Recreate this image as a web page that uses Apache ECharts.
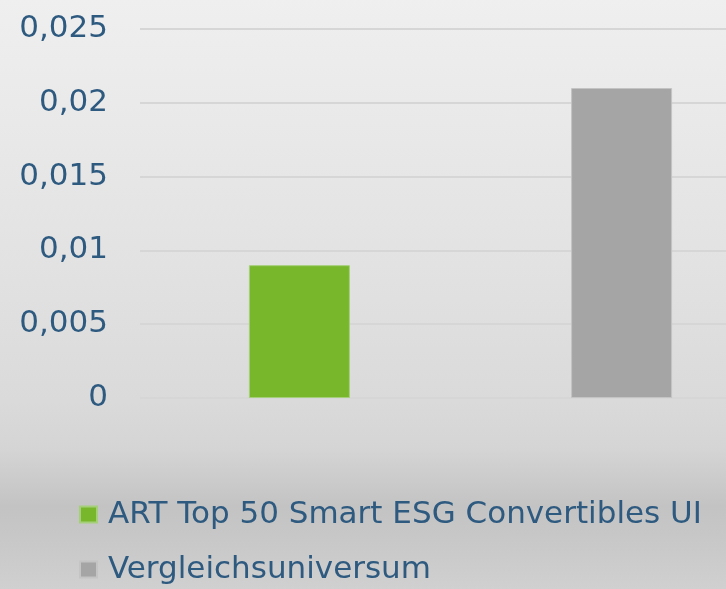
<!DOCTYPE html>
<html>
<head>
<meta charset="utf-8">
<script src="https://cdn.jsdelivr.net/npm/echarts@6/dist/echarts.min.js"></script>
<style>
  html, body { margin: 0; padding: 0; }
  #chart {
    width: 726px; height: 589px;
    background: linear-gradient(to bottom, #efefef 0%, #e2e2e2 45%, #dadada 68%, #d5d5d5 76%, #c3c3c3 86%, #c9c9c9 93%, #d0d0d0 100%);
  }
</style>
</head>
<body>
<div id="chart"></div>
<script>
  const categories = ['']
  const seriesNames = ['ART Top 50 Smart ESG Convertibles UI', 'Vergleichsuniversum']
  const artValues = [0.009]
  const vergleichValues = [0.021]
  const yTicks = { min: 0, max: 0.025, interval: 0.005 }

  const chart = echarts.init(document.getElementById('chart'))
  const textColor = '#2e5a80'
  const font = '"DejaVu Sans", sans-serif'

  let option = {
    animation: false,
    grid: {
      left: 140,
      top: 29,
      width: 641,
      height: 369,
      outerBoundsMode: 'none'
    },
    legend: {
      orient: 'vertical',
      left: 79,
      top: 499,
      padding: 0,
      itemWidth: 17,
      itemHeight: 16,
      itemGap: 24,
      icon: 'rect',
      textStyle: { color: textColor, fontSize: 31, fontFamily: font, padding: [0, 0, 0, 6] },
      data: seriesNames
    },
    xAxis: {
      type: 'category',
      data: categories,
      axisLine: { show: false },
      axisTick: { show: false },
      axisLabel: { show: false }
    },
    yAxis: {
      type: 'value',
      min: yTicks.min,
      max: yTicks.max,
      interval: yTicks.interval,
      axisLabel: {
        color: textColor,
        fontSize: 31,
        fontFamily: font,
        margin: 32,
        formatter: v => String(+v.toFixed(3)).replace('.', ',')
      },
      splitLine: { lineStyle: { color: '#d6d6d6', width: 2 } }
    },
    series: [
      {
        name: seriesNames[0],
        type: 'bar',
        barWidth: 101,
        barGap: '219%',
        itemStyle: { color: '#78b72c', borderColor: '#a6cf7a', borderWidth: 1 },
        data: artValues
      },
      {
        name: seriesNames[1],
        type: 'bar',
        barWidth: 101,
        itemStyle: { color: '#a5a5a5', borderColor: '#c4c4c4', borderWidth: 1 },
        data: vergleichValues
      }
    ]
  }
  chart.setOption(option)
</script>
</body>
</html>
